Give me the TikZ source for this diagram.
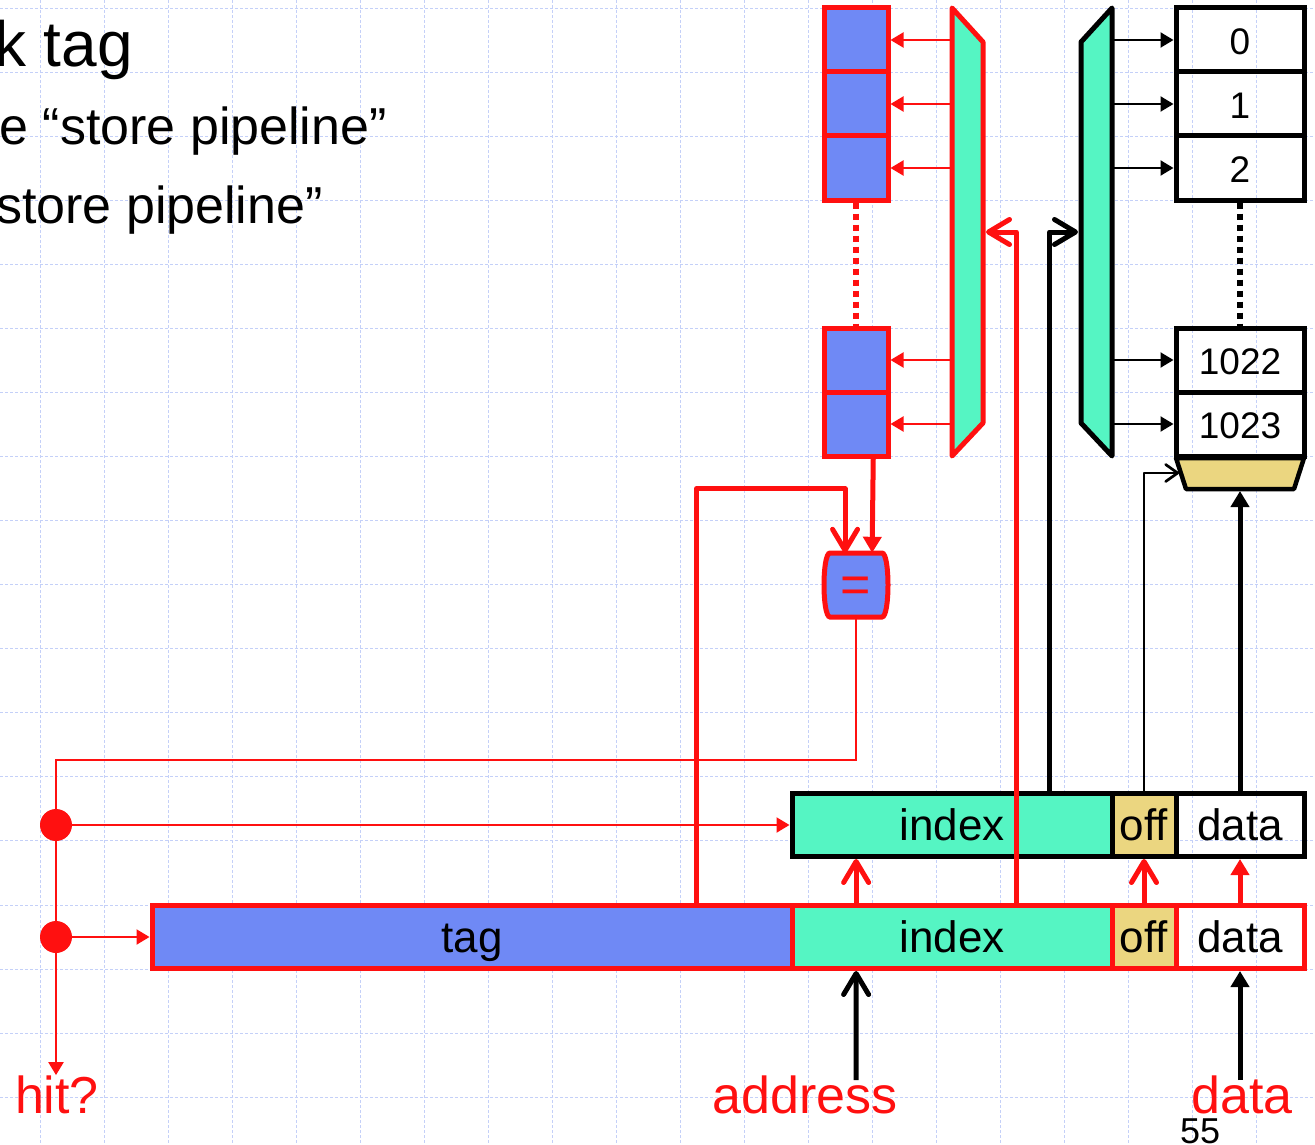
\documentclass[tikz,border=0pt]{standalone}
\usepackage{fontspec}
\setmainfont{Liberation Sans}
\usetikzlibrary{arrows.meta, calc}

\definecolor{rouge}{RGB}{255,16,16}
\definecolor{turquoise}{RGB}{85,245,195}
\definecolor{bleu}{RGB}{111,137,245}
\definecolor{sable}{RGB}{235,214,128}
\definecolor{quadrillage}{RGB}{196,208,248}

\begin{document}
\begin{tikzpicture}[x=1pt,y=-1pt,
  grille/.style={line width=1pt, draw=quadrillage, dash pattern=on 3pt off 2pt},
  bloc/.style={draw=rouge, fill=bleu, line width=5pt, minimum width=64pt, minimum height=64pt, inner sep=0pt},
  case/.style={draw=black, line width=5pt, minimum width=128pt, minimum height=64pt, inner sep=0pt,
    font=\fontsize{37}{40}\selectfont, text height=29pt, text depth=0pt},
  champ/.style={line width=5pt, minimum height=63pt, inner sep=0pt,
    font=\fontsize{44}{48}\selectfont, text height=31pt, text depth=0pt},
  fil/.style={line width=2.2pt},
  bus/.style={line width=5pt, line join=round},
  pointe/.style={-{Triangle[length=13pt,width=15pt]}},
  grossepointe/.style={-{Triangle[length=16pt,width=18pt]}},
  crochet/.style={-{Straight Barb[length=21pt,width=25pt,round]}},
  petitcrochet/.style={-{Straight Barb[length=12pt,width=17pt,round]}},
  pointille/.style={line width=5.5pt, dash pattern=on 6pt off 5pt},
  etiquette/.style={text=rouge, font=\fontsize{52}{60}\selectfont, inner sep=0pt, anchor=base}]

\useasboundingbox (0,0) rectangle (1315,1145);
\clip (0,0) rectangle (1315,1145);

%% quadrillage de fond
\foreach \i in {0,...,19} \draw[grille] ({40.7+63.97*\i},0) -- ({40.7+63.97*\i},1145);
\foreach \j in {0,...,17} \draw[grille] (0,{8.3+64.05*\j}) -- (1315,{8.3+64.05*\j});

%% titre (coupe a gauche)
\node[anchor=base east, inner sep=0pt, font=\fontsize{64}{70}\selectfont] (titre) at (133,67) {k tag};
\node[anchor=base east, inner sep=0pt, font=\fontsize{52}{60}\selectfont] (puce1) at (387,145) {e “store pipeline”};
\node[anchor=base east, inner sep=0pt, font=\fontsize{52}{60}\selectfont] (puce2) at (323,223) {store pipeline”};

%% ================= tableau des tags + decodeur ============================
\draw[draw=rouge, fill=turquoise, line width=5pt, line join=round]
  (952,8) -- (983,42) -- (983,423) -- (952,456) -- cycle;
\coordinate (decT) at (952,0);
\coordinate (entreeT) at (986,232);
\foreach \n/\y in {t0/40, t1/104, t2/168, tA/360, tB/424}
  \node[bloc] (\n) at (856,\y) {};
\draw[pointille, draw=rouge] (t2.south) -- (tA.north);
\foreach \n in {t0,t1,t2,tA,tB}
  \draw[fil, draw=rouge, pointe] (decT |- \n) -- (\n.east);

%% ================= tableau des donnees + decodeur =========================
\draw[fill=turquoise, line width=5pt, line join=round]
  (1112,8) -- (1112,456) -- (1081,423) -- (1081,42) -- cycle;
\coordinate (decD) at (1112,0);
\coordinate (entreeD) at (1078,232);
\foreach \n/\y/\t in {d0/40/0, d1/104/1, d2/168/2, dA/360/1022, dB/424/1023}
  \node[case] (\n) at (1240,\y) {\t};
\draw[pointille] (d2.south) -- (dA.north);
\foreach \n in {d0,d1,d2,dA,dB}
  \draw[fil, pointe] (decD |- \n) -- (\n.west);

%% multiplexeur d'ecriture
\draw[fill=sable, line width=4.5pt, line join=round] (1176,458) -- (1304,458) -- (1294,489) -- (1186,489) -- cycle;
\coordinate (muxbas) at (1240,491);
\coordinate (muxgauche) at (1179,473);

%% ================= comparateur ============================================
\draw[draw=rouge, fill=bleu, line width=5pt]
  (830,553) -- (882,553) .. controls (890,553) and (890,617) .. (882,617)
  -- (830,617) .. controls (822,617) and (822,553) .. (830,553) -- cycle;
\node[text=rouge, font=\fontsize{52}{56}\selectfont, minimum width=64pt, minimum height=64pt,
  inner sep=0pt, text height=35pt, text depth=0pt] (comp) at (856,585) {=};
\coordinate (entreeC) at ($(comp.north)!.34!(comp.north west)$);

%% ================= registres ==============================================
\node[champ, draw=black, fill=turquoise, minimum width=320pt] (ui) at (952,825) {index};
\node[champ, draw=black, fill=sable, minimum width=64pt] (uo) at (1144,825) {off};
\node[champ, draw=black, minimum width=128pt] (ud) at (1240,825) {data};

\node[champ, draw=rouge, fill=bleu, minimum width=640pt] (lt) at (472,937) {tag};
\node[champ, draw=rouge, fill=turquoise, minimum width=320pt] (li) at (952,937) {index};
\node[champ, draw=rouge, fill=sable, minimum width=64pt] (lo) at (1144,937) {off};
\node[champ, draw=rouge, minimum width=128pt] (ld) at (1240,937) {data};

\coordinate (prisetag) at ($(lt.north west)!.848!(lt.north east)$);
\coordinate (priseidx) at ($(li.north west)!.698!(li.north east)$);
\coordinate (priseidx2) at ($(ui.north west)!.8!(ui.north east)$);

%% ================= liaisons ===============================================
\draw[bus, draw=rouge, grossepointe] ($(tB.south)!.5!(tB.south east)$) -- ($(comp.north)!.5!(comp.north east)$);
\draw[bus, draw=rouge, crochet] (prisetag) |- ($(entreeC)+(0,-64)$) -- (entreeC);
\draw[bus, draw=rouge, crochet] (priseidx) |- (entreeT);
\draw[bus, crochet] (priseidx2) |- (entreeD);
\draw[line width=2.7pt, line join=round, petitcrochet] (uo.north) |- (muxgauche);
\draw[bus, grossepointe] (ud.north) -- (muxbas);

\draw[bus, draw=rouge, crochet] ($(li.north west)!.205!(li.north east)$) -- ($(ui.south west)!.205!(ui.south east)$);
\draw[bus, draw=rouge, crochet] (lo.north) -- (uo.south);
\draw[bus, draw=rouge, grossepointe] (ld.north) -- (ud.south);

%% entrees et sortie
\node[etiquette] (adresse) at (805,1113) {address};
\node[etiquette] (donnee) at (1242,1113) {data};
\node[etiquette] (hit) at (57,1113) {hit?};
\coordinate (piedadr) at (856,1080);
\coordinate (pieddon) at (1240,1080);
\draw[bus, crochet] (piedadr) -- ($(li.south west)!.205!(li.south east)$);
\draw[bus, grossepointe] (pieddon) -- (ld.south);

\node[circle, fill=rouge, minimum size=32pt, inner sep=0pt] (pt1) at (56,825) {};
\node[circle, fill=rouge, minimum size=32pt, inner sep=0pt] (pt2) at (56,937) {};
\coordinate (retour) at (0,760);
\draw[fil, draw=rouge] (comp.south) |- (retour -| pt1) -- (pt1);
\draw[fil, draw=rouge, pointe] (pt1) -- (pt2) -- (hit.north -| pt2);
\draw[fil, draw=rouge, pointe] (pt1) -- (ui.west);
\draw[fil, draw=rouge, pointe] (pt2) -- (lt.west);

\node[anchor=base west, inner sep=0pt, font=\fontsize{36}{40}\selectfont] (page) at (1180,1143) {55};
\end{tikzpicture}
\end{document}
